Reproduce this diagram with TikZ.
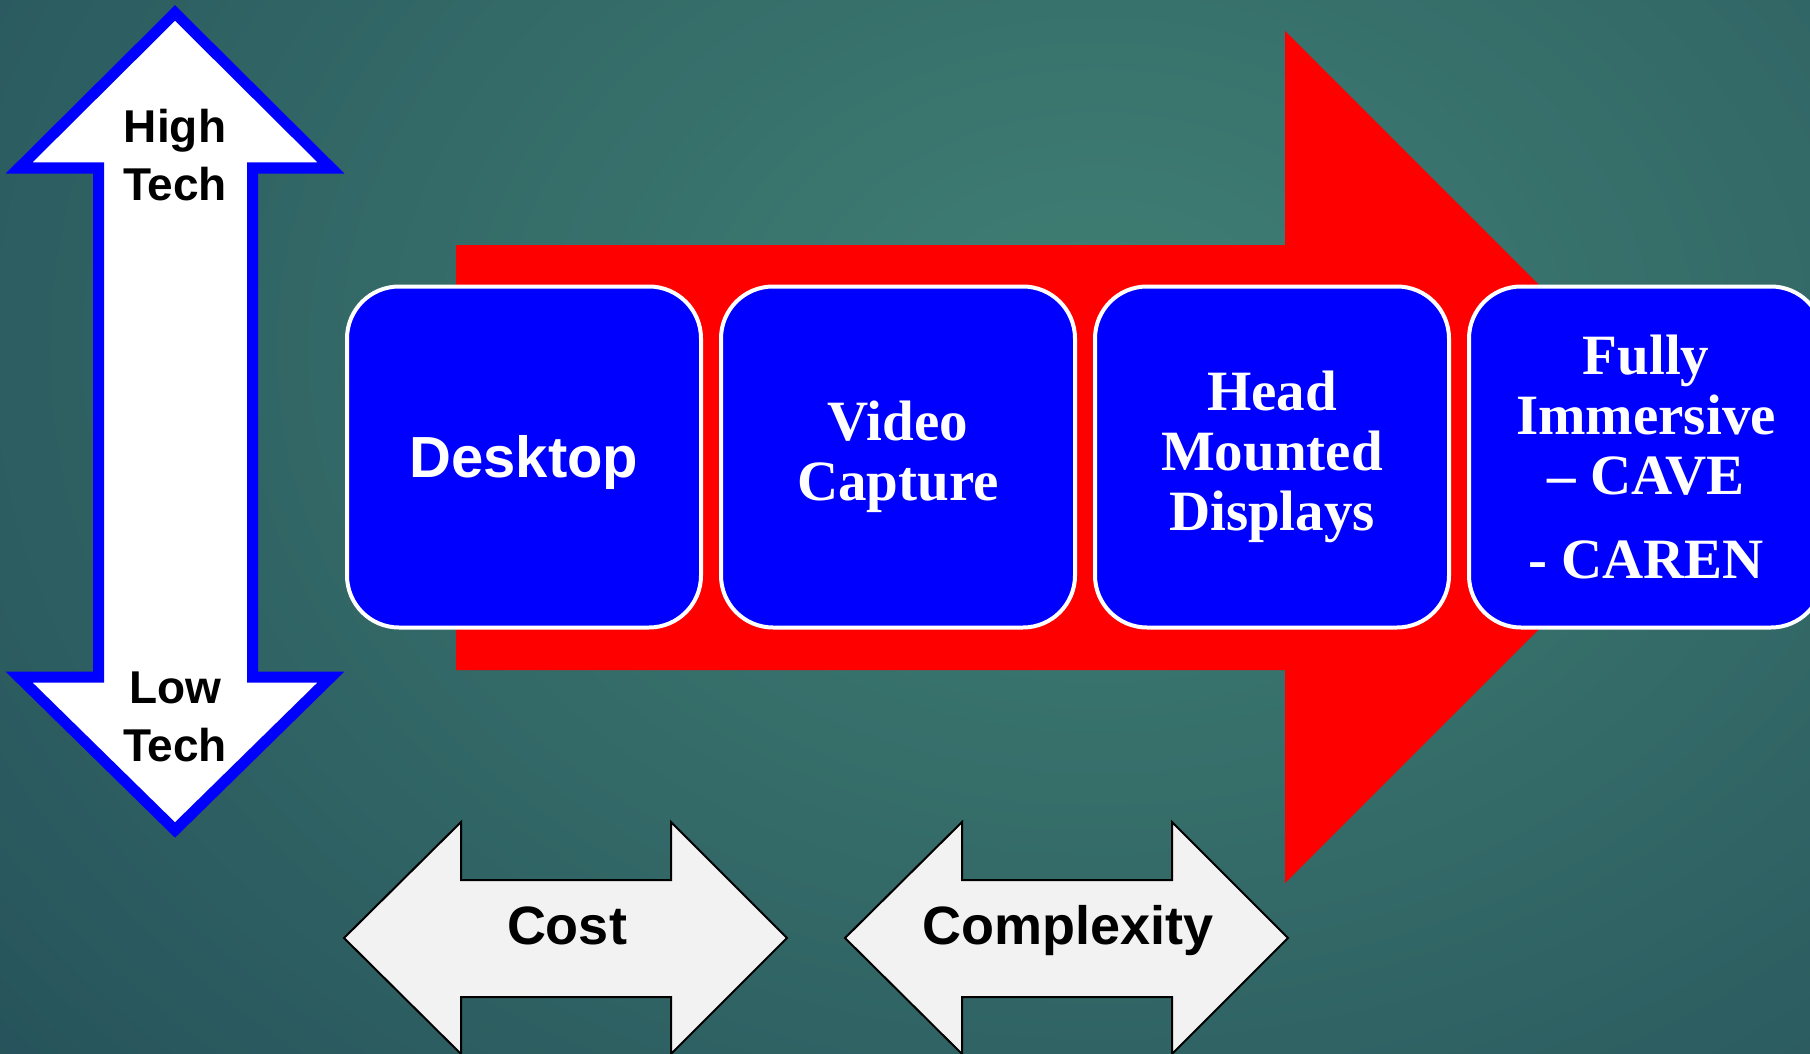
\documentclass[tikz,border=0pt]{standalone}
\usepackage{fontspec}
\setmainfont{Liberation Serif}
\newfontfamily\arialfont{Liberation Sans}
\usepackage{xcolor}
\usetikzlibrary{shapes,arrows,positioning,calc}

\definecolor{bgdark}{RGB}{27,63,80}
\definecolor{bglight}{RGB}{64,128,116}
\definecolor{boxblue}{RGB}{0,0,255}
\definecolor{arrowgray}{RGB}{242,242,242}

\tikzset{
  techbox/.style={draw=white, line width=2pt, fill=boxblue, rounded corners=26pt,
    minimum width=177pt, minimum height=170.5pt, inner sep=0pt, text=white, align=center},
  serifbold/.style={font=\fontsize{28.5}{30}\selectfont\bfseries},
  sansbold/.style={font=\arialfont\fontsize{29}{30}\selectfont\bfseries},
  techlbl/.style={font=\arialfont\fontsize{23}{29}\selectfont\bfseries, align=center, text=black},
  costlbl/.style={font=\arialfont\fontsize{27}{30}\selectfont\bfseries, anchor=base, text=black}
}

\begin{document}
\begin{tikzpicture}[x=0.5pt, y=-0.5pt]
    % Background
    \useasboundingbox (0,0) rectangle (1810,1054);
    \clip (0,0) rectangle (1810,1054);
    \fill[bgdark] (0,0) rectangle (1810,1054);
    \shade[inner color=bglight, outer color=bgdark] (1100,350) ellipse (2100 and 1600);

    % High / low tech arrow
    \draw[draw=boxblue, line width=5.5pt, fill=white] (175,13) -- (331,168) -- (252.5,168)
        -- (252.5,677) -- (331,677) -- (175,830) -- (19,677) -- (98.5,677)
        -- (98.5,168) -- (19,168) -- cycle;
    \node[techlbl] (high) at (175,155) {High\\Tech};
    \node[techlbl] (low) at (175,717) {Low\\Tech};

    % Red arrow
    \fill[red] (456,245) -- (1285,245) -- (1285,31) -- (1711,457) -- (1285,883)
        -- (1285,670) -- (456,670) -- cycle;

    % Boxes
    \node[techbox, sansbold] (desktop) at (524,457) {\raisebox{-3pt}[\height][\depth]{Desktop}};
    \node[techbox, serifbold, right=8pt of desktop] (video) {Video\\Capture};
    \node[techbox, serifbold, right=8pt of video] (hmd) {Head\\Mounted\\Displays};
    \node[techbox, serifbold, right=8pt of hmd] (cave) {Fully\\Immersive\\– CAVE\\[12pt]- CAREN};

    % Cost and complexity arrows
    \foreach \x/\nm/\txt in {344/cost/Cost, 845/cplx/Complexity} {
        \draw[fill=arrowgray, line width=1pt] (\x,938) -- ({\x+117},822) -- ({\x+117},880)
            -- ({\x+327},880) -- ({\x+327},822) -- ({\x+443},938) -- ({\x+327},1054)
            -- ({\x+327},997) -- ({\x+117},997) -- ({\x+117},1054) -- cycle;
        \node[costlbl] (\nm) at ({\x+223},944) {\txt};
    }
\end{tikzpicture}
\end{document}
